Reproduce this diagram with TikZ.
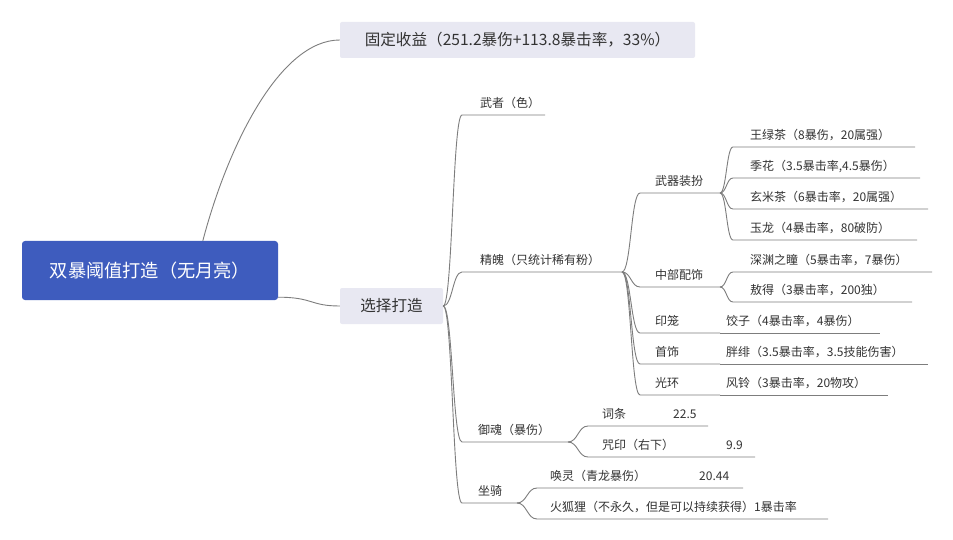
\documentclass[tikz,border=0pt]{standalone}
\usepackage{fontspec}
\setmainfont{Noto Sans CJK SC}
\usetikzlibrary{calc}
\definecolor{rootfill}{RGB}{62,92,190}
\definecolor{boxfill}{RGB}{232,232,242}
\definecolor{txt}{RGB}{51,51,51}
\definecolor{linec}{RGB}{125,125,125}
\tikzset{
  lvlzero/.style={rectangle, fill=rootfill, rounded corners=3pt, text=white,
    minimum width=256pt, minimum height=59pt, inner sep=0pt,
    font=\fontsize{18.2}{21}\selectfont},
  lvlone/.style={rectangle, fill=boxfill, rounded corners=2pt, text=txt,
    minimum height=36pt, inner sep=0pt, font=\fontsize{15.6}{18}\selectfont},
  leaf/.style={anchor=base west, inner sep=0pt, text=txt,
    font=\fontsize{12}{14}\selectfont},
  link/.style={draw=linec, line width=0.9pt}
}
\newcommand\mmleaf[6]{%
  \node[leaf] (#1) at (#2,#3-7.5) {#6};
  \coordinate (#1L) at (#4,#3);
  \coordinate (#1R) at (#5,#3);}
\newcommand\mmlink[2]{%
  \draw[link] (#1) .. controls ($(#1)!0.5!(#1 -| #2L)$) and ($(#2L)!0.5!(#2L -| #1)$) .. (#2L) -- (#2R);}
\begin{document}
\begin{tikzpicture}[x=1pt,y=-1pt]
\useasboundingbox (0,0) rectangle (953,540);
\fill[white] (0,0) rectangle (953,540);

% main topics
\node[lvlzero] (root) at (150,270.5) {双暴阈值打造（无月亮）};
\node[lvlone, minimum width=355pt] (fixed) at (517.5,40) {固定收益（251.2暴伤+113.8暴击率，33\%）};
\node[lvlone, minimum width=103pt] (select) at (391.5,306) {选择打造};

\coordinate (rootup) at ($(root.north west)!0.706!(root.north east)$);
\coordinate (rootright) at ($(root.south east)+(0,-3)$);
\draw[link] (rootup) .. controls +(25,-95) and +(-60,0) .. (fixed.west);
\draw[link] (rootright) .. controls +(35,0) and +(-30,0) .. (select.west);

% level 2
\mmleaf{wuzhe}{480}{115}{462}{545}{武者（色）}
\mmleaf{jingpo}{480}{272}{462}{622}{精魄（只统计稀有粉）}
\mmleaf{yuhun}{478}{442}{462}{568}{御魂（暴伤）}
\mmleaf{zuoqi}{478}{503}{462}{517}{坐骑}
\mmlink{select.east}{wuzhe}
\mmlink{select.east}{jingpo}
\mmlink{select.east}{yuhun}
\mmlink{select.east}{zuoqi}

% jingpo children
\mmleaf{wuqi}{655}{193}{640}{720}{武器装扮}
\mmleaf{zhongbu}{655}{287}{640}{720}{中部配饰}
\mmleaf{yinlong}{655}{333}{640}{720}{印笼}
\mmleaf{shoushi}{655}{364}{640}{720}{首饰}
\mmleaf{guanghuan}{655}{395}{640}{720}{光环}
\mmlink{jingpoR}{wuqi}
\mmlink{jingpoR}{zhongbu}
\mmlink{jingpoR}{yinlong}
\mmlink{jingpoR}{shoushi}
\mmlink{jingpoR}{guanghuan}

% wuqi children
\mmleaf{lvcha}{750}{147}{733}{915}{王绿茶（8暴伤，20属强）}
\mmleaf{jihua}{750}{178}{733}{920}{季花（3.5暴击率,4.5暴伤）}
\mmleaf{xuanmi}{750}{209}{733}{928}{玄米茶（6暴击率，20属强）}
\mmleaf{yulong}{750}{240}{733}{917}{玉龙（4暴击率，80破防）}
\mmlink{wuqiR}{lvcha}
\mmlink{wuqiR}{jihua}
\mmlink{wuqiR}{xuanmi}
\mmlink{wuqiR}{yulong}

% zhongbu children
\mmleaf{shenyuan}{750}{272}{733}{932}{深渊之瞳（5暴击率，7暴伤）}
\mmleaf{aode}{750}{302}{733}{912}{敖得（3暴击率，200独）}
\mmlink{zhongbuR}{shenyuan}
\mmlink{zhongbuR}{aode}

% single followers
\mmleaf{jiaozi}{726}{333}{720}{880}{饺子（4暴击率，4暴伤）}
\mmleaf{pangfei}{726}{364}{720}{928}{胖绯（3.5暴击率，3.5技能伤害）}
\mmleaf{fengling}{726}{395}{720}{888}{风铃（3暴击率，20物攻）}
\draw[link] (yinlongR) -- (jiaoziR);
\draw[link] (shoushiR) -- (pangfeiR);
\draw[link] (guanghuanR) -- (fenglingR);

% yuhun children
\mmleaf{citiao}{602}{426}{588}{708}{词条\hspace{47pt}22.5}
\mmleaf{zhouyin}{602}{457}{588}{755}{咒印（右下）\hspace{52pt}9.9}
\mmlink{yuhunR}{citiao}
\mmlink{yuhunR}{zhouyin}

% zuoqi children
\mmleaf{huanling}{550}{488}{537}{743}{唤灵（青龙暴伤）\hspace{53pt}20.44}
\mmleaf{huohuli}{550}{519}{537}{828}{火狐狸（不永久，但是可以持续获得）1暴击率}
\mmlink{zuoqiR}{huanling}
\mmlink{zuoqiR}{huohuli}
\end{tikzpicture}
\end{document}
